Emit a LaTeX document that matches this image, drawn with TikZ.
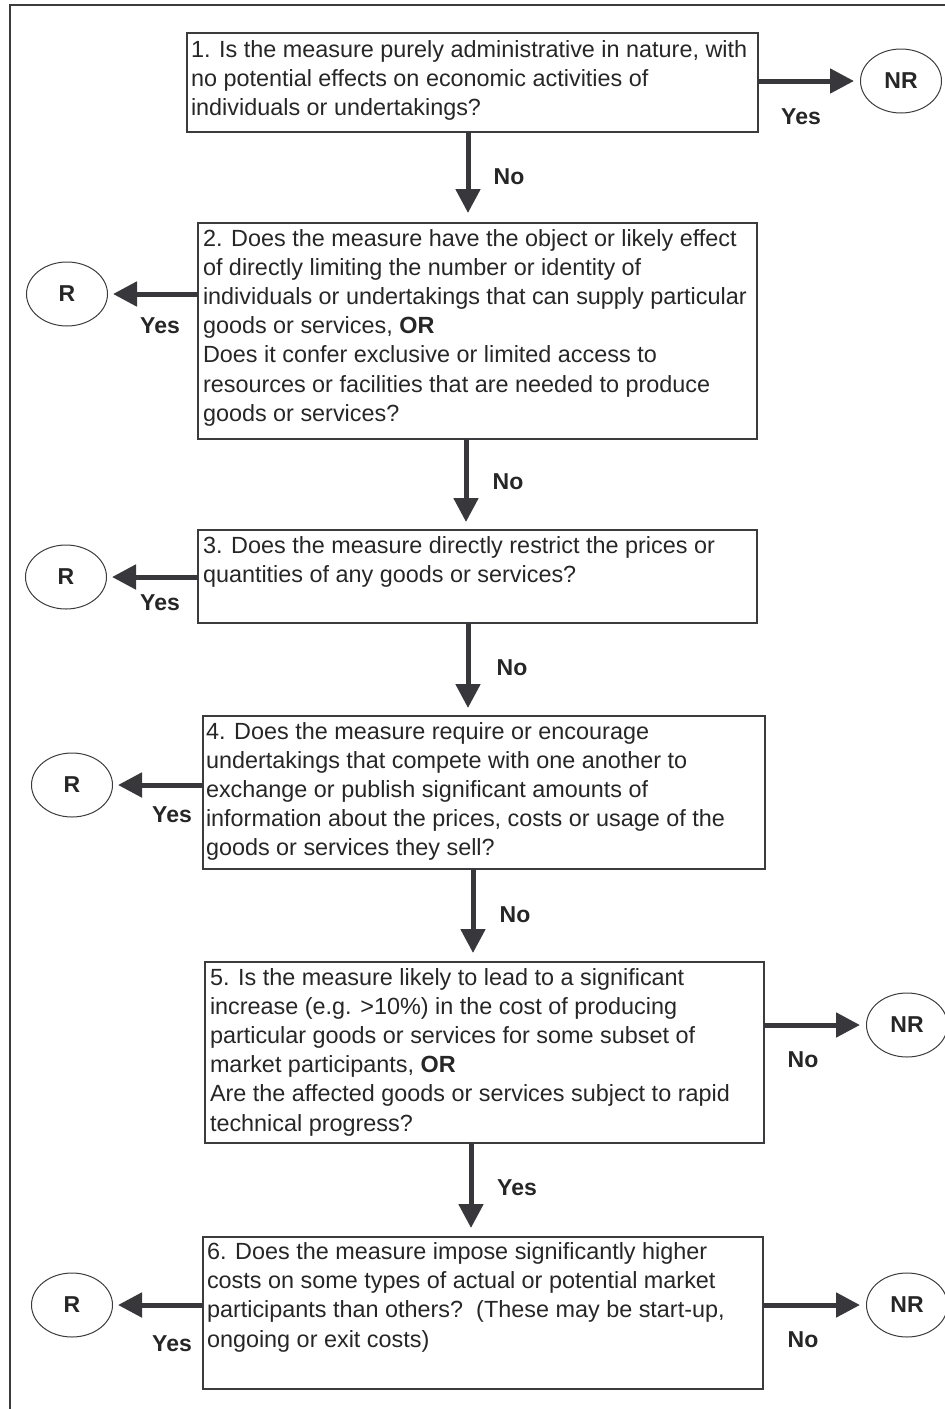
\documentclass[tikz,border=0pt]{standalone}
\usepackage{fontspec}
\setmainfont{Liberation Sans}
\usetikzlibrary{arrows.meta,shapes.geometric}
\definecolor{linecol}{RGB}{60,60,62}
\definecolor{arrcol}{RGB}{56,56,60}
\definecolor{txtcol}{RGB}{38,38,38}
\tikzset{
  qbox/.style={draw=linecol, line width=1.4pt, rectangle, inner sep=0pt, outer sep=0pt},
  qtext/.style={anchor=base west, inner sep=0pt, outer sep=0pt, text=txtcol},
  endnode/.style={draw=linecol, line width=1pt, ellipse, minimum width=81pt, minimum height=64pt, inner sep=0pt, font=\fontsize{23}{27}\selectfont\bfseries, text=txtcol},
  lbl/.style={font=\fontsize{23}{27}\selectfont\bfseries, text=txtcol, inner sep=0pt},
  arr/.style={draw=arrcol, line width=5pt, -{Triangle[length=24pt,width=24pt]}, arrcol},
}
\newcommand{\qtxt}[1]{\parbox[t]{575pt}{\raggedright\fontsize{23.4}{29.2}\selectfont #1}}
\begin{document}
\begin{tikzpicture}[x=1pt,y=-1pt]
\useasboundingbox (0,0) rectangle (945,1409);
% frame
\draw[line width=2pt, linecol] (10,1420) -- (10,5) -- (955,5);

% boxes
\node[qbox, minimum width=571pt, minimum height=99pt] (b1) at (472.5,82.5) {};
\node[qbox, minimum width=559pt, minimum height=216pt] (b2) at (477.5,331) {};
\node[qbox, minimum width=559pt, minimum height=93pt] (b3) at (477.5,576.5) {};
\node[qbox, minimum width=562pt, minimum height=153pt] (b4) at (484,792.5) {};
\node[qbox, minimum width=559pt, minimum height=181pt] (b5) at (484.5,1052.5) {};
\node[qbox, minimum width=560pt, minimum height=152pt] (b6) at (483,1313) {};

% texts
\node[qtext] (t1) at ([xshift=4pt,yshift=-24pt]b1.north west) {\qtxt{1. Is the measure purely administrative in nature, with\\no potential effects on economic activities of\\individuals or undertakings?}};
\node[qtext] (t2) at ([xshift=5pt,yshift=-23pt]b2.north west) {\qtxt{2. Does the measure have the object or likely effect\\of directly limiting the number or identity of\\individuals or undertakings that can supply particular\\goods or services, \textbf{OR}\\Does it confer exclusive or limited access to\\resources or facilities that are needed to produce\\goods or services?}};
\node[qtext] (t3) at ([xshift=5pt,yshift=-23pt]b3.north west) {\qtxt{3. Does the measure directly restrict the prices or\\quantities of any goods or services?}};
\node[qtext] (t4) at ([xshift=3pt,yshift=-23pt]b4.north west) {\qtxt{4. Does the measure require or encourage\\undertakings that compete with one another to\\exchange or publish significant amounts of\\information about the prices, costs or usage of the\\goods or services they sell?}};
\node[qtext] (t5) at ([xshift=5pt,yshift=-23pt]b5.north west) {\qtxt{5. Is the measure likely to lead to a significant\\increase (e.g. >10\%) in the cost of producing\\particular goods or services for some subset of\\market participants, \textbf{OR}\\Are the affected goods or services subject to rapid\\technical progress?}};
\node[qtext] (t6) at ([xshift=4pt,yshift=-22.5pt]b6.north west) {\qtxt{6. Does the measure impose significantly higher\\costs on some types of actual or potential market\\participants than others?\ \ (These may be start-up,\\ongoing or exit costs)}};

% end nodes
\node[endnode] (nr1) at (901,81) {NR};
\node[endnode] (r2) at (67,294) {R};
\node[endnode] (r3) at (66,577) {R};
\node[endnode] (r4) at (72,785) {R};
\node[endnode] (nr5) at (907,1025) {NR};
\node[endnode] (r6) at (72,1305) {R};
\node[endnode] (nr6) at (907,1305) {NR};

% horizontal arrows
\draw[arr, shorten >=6pt] (nr1 -| b1.east) -- (nr1.west);
\draw[arr, shorten >=5pt] (r2 -| b2.west) -- (r2.east);
\draw[arr, shorten >=5pt] (r3 -| b3.west) -- (r3.east);
\draw[arr, shorten >=5pt] (r4 -| b4.west) -- (r4.east);
\draw[arr, shorten >=6pt] (nr5 -| b5.east) -- (nr5.west);
\draw[arr, shorten >=5pt] (r6 -| b6.west) -- (r6.east);
\draw[arr, shorten >=6pt] (nr6 -| b6.east) -- (nr6.west);

% vertical arrows
\draw[arr, shorten >=10pt] ([xshift=-4.5pt]b1.south) -- ([xshift=-9.5pt]b2.north);
\draw[arr, shorten >=8pt] ([xshift=-11.5pt]b2.south) -- ([xshift=-11.5pt]b3.north);
\draw[arr, shorten >=8pt] ([xshift=-9.5pt]b3.south) -- ([xshift=-16pt]b4.north);
\draw[arr, shorten >=9pt] ([xshift=-11pt]b4.south) -- ([xshift=-11.5pt]b5.north);
\draw[arr, shorten >=9pt] ([xshift=-13.5pt]b5.south) -- ([xshift=-12pt]b6.north);

% labels
\node[lbl] (l1) at (801,117) {Yes};
\node[lbl] (l2) at (160,326) {Yes};
\node[lbl] (l3) at (160,603) {Yes};
\node[lbl] (l4) at (172,815) {Yes};
\node[lbl] (l5) at (803,1060) {No};
\node[lbl] (l6) at (172,1344) {Yes};
\node[lbl] (l7) at (803,1340) {No};
\node[lbl] (v1) at (509,177) {No};
\node[lbl] (v2) at (508,482) {No};
\node[lbl] (v3) at (512,668) {No};
\node[lbl] (v4) at (515,915) {No};
\node[lbl] (v5) at (517,1188) {Yes};
\end{tikzpicture}
\end{document}
